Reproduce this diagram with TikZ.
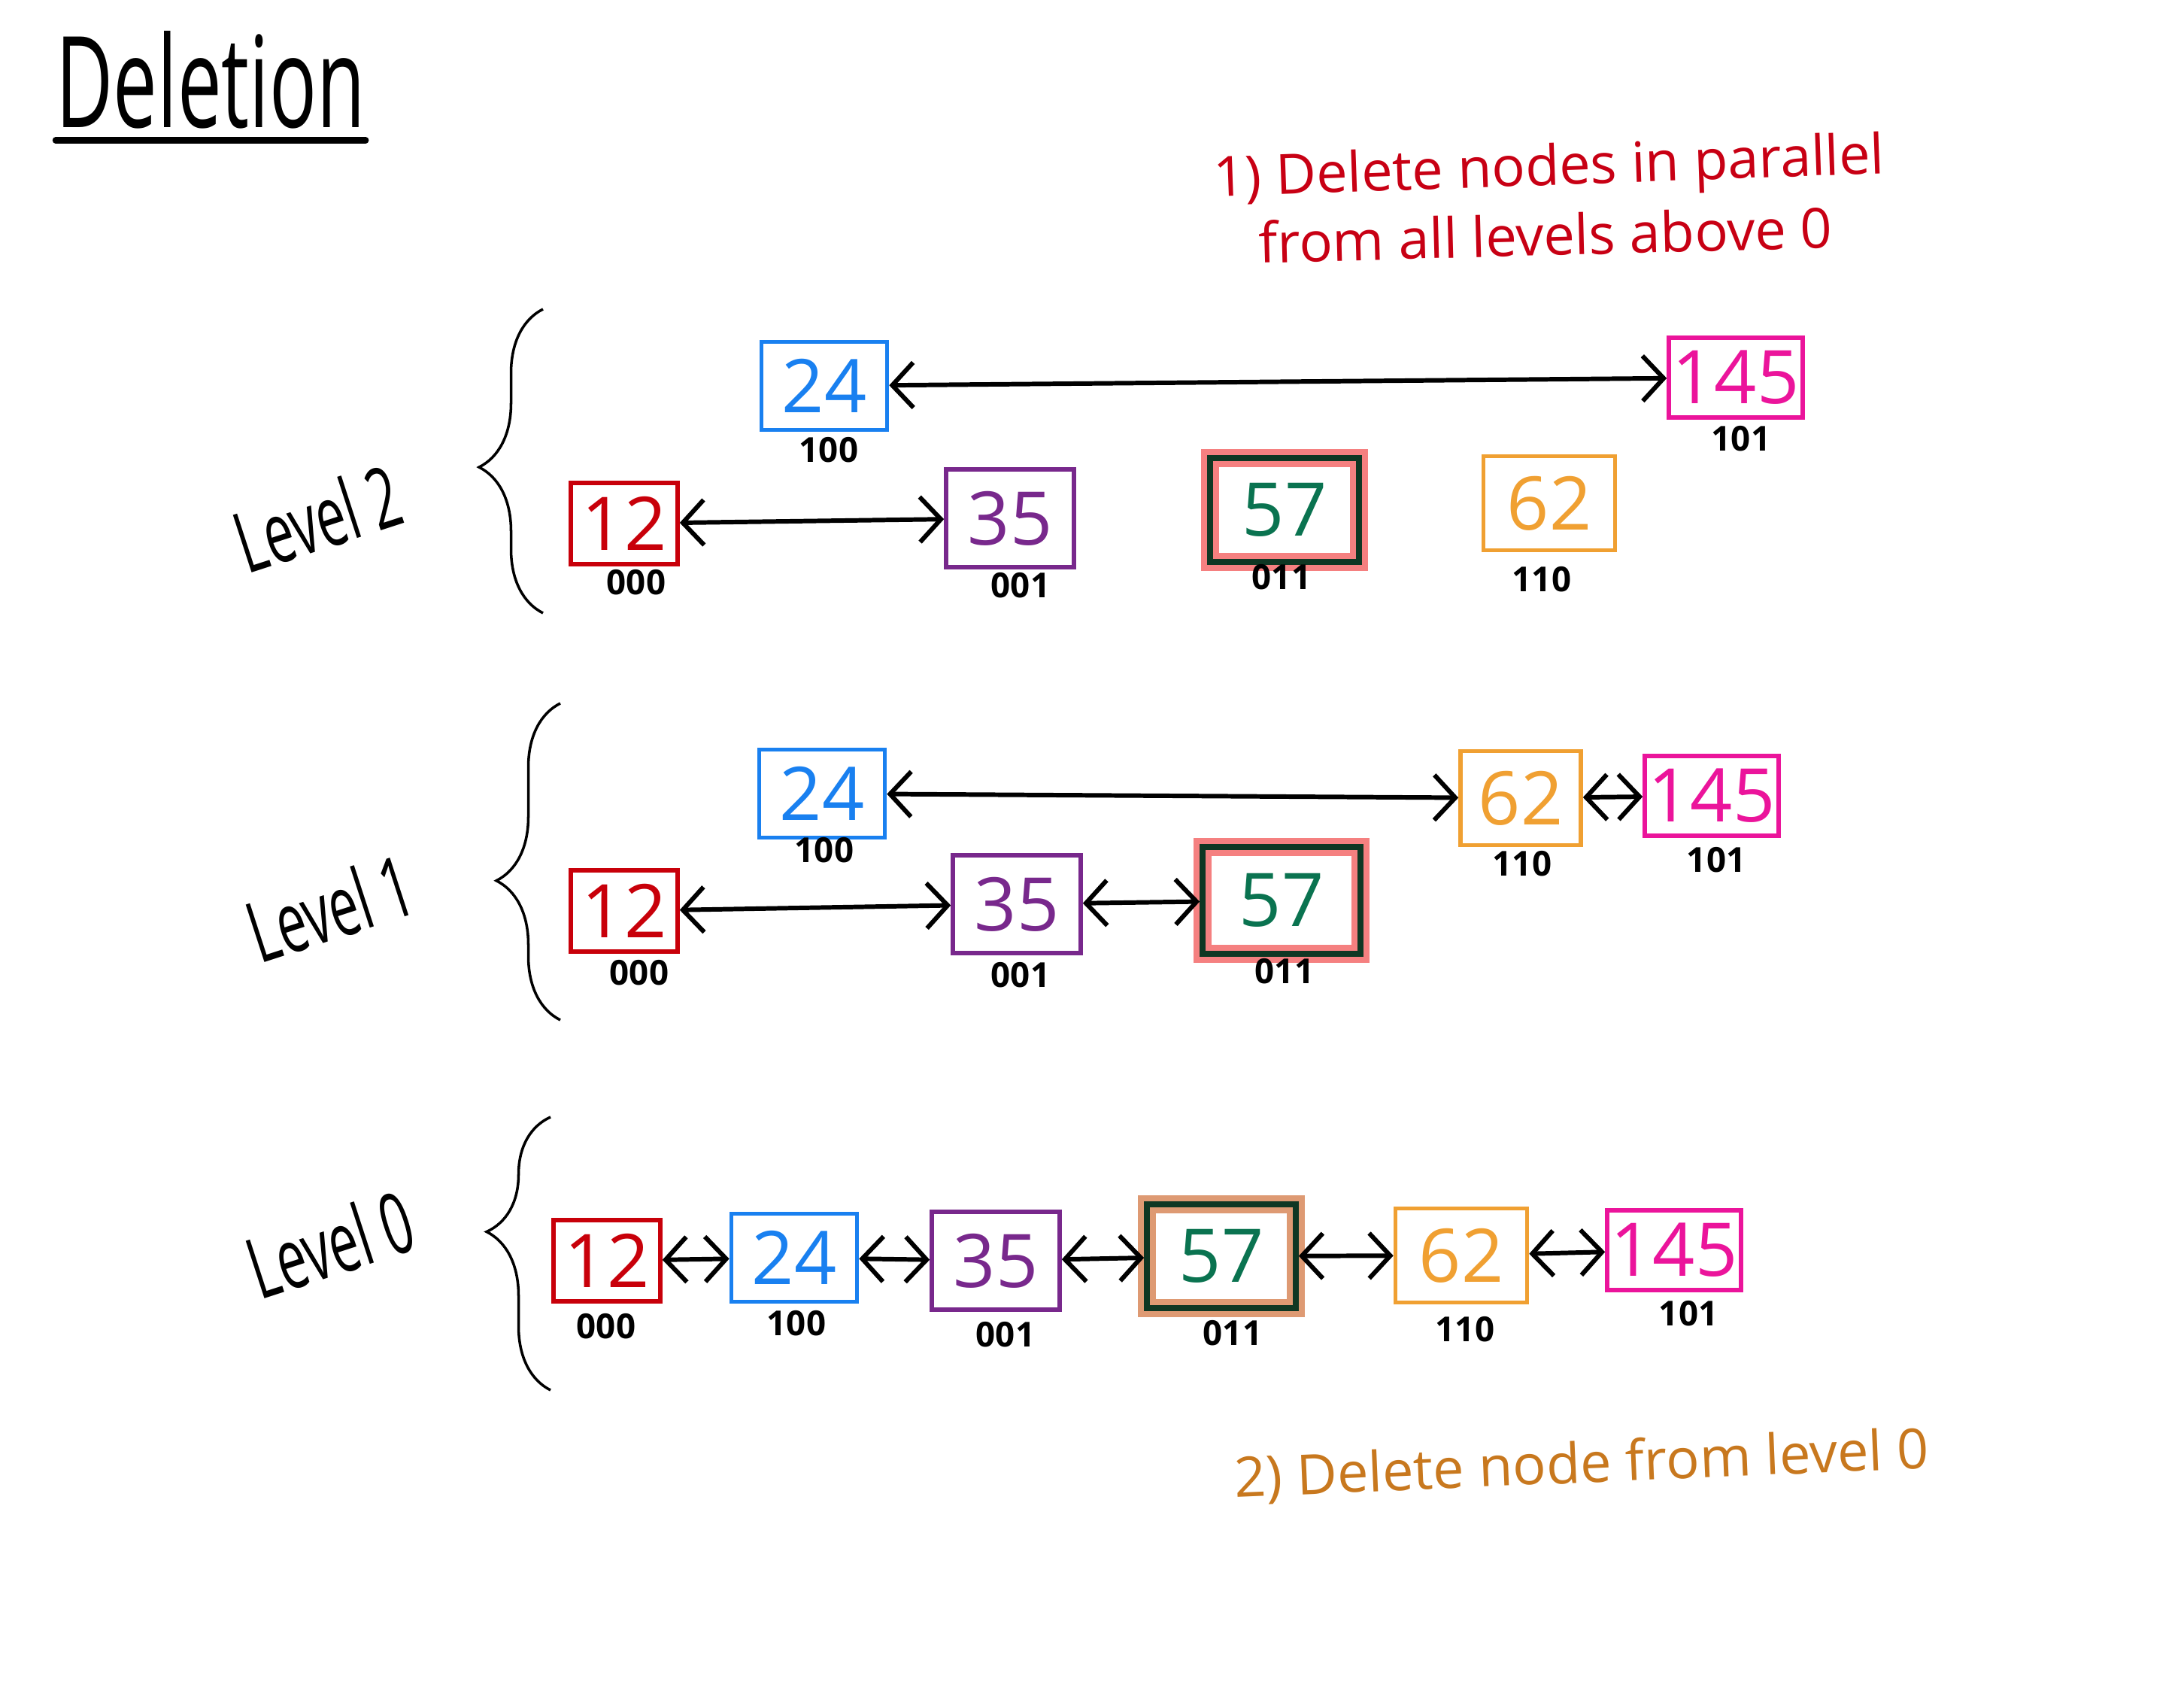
\documentclass[tikz,border=0pt]{standalone}
\usepackage{fontspec}
\setmainfont{Open Sans}
\newfontfamily\handnarrow[FakeStretch=0.62]{Open Sans}
\usepackage{xcolor}
\usepackage{tikz}
\usetikzlibrary{arrows.meta,decorations.pathreplacing}
\definecolor{keyred}{RGB}{200,0,10}
\definecolor{keyblue}{RGB}{25,128,240}
\definecolor{keypurple}{RGB}{120,40,140}
\definecolor{keygreen}{RGB}{10,115,80}
\definecolor{keydark}{RGB}{15,55,35}
\definecolor{keyorange}{RGB}{240,160,50}
\definecolor{keypink}{RGB}{235,20,155}
\definecolor{noteone}{RGB}{200,0,20}
\definecolor{notetwo}{RGB}{200,120,30}
\definecolor{hlred}{RGB}{240,60,60}
\definecolor{hlbrown}{RGB}{205,100,40}

\begin{document}
\begin{tikzpicture}[
    key/.style={draw, line width=1.6pt, inner sep=0pt, font=\fontsize{28}{28}\selectfont},
    k12/.style={key, draw=keyred, text=keyred, minimum width=1.42cm, minimum height=1.08cm},
    k24/.style={key, draw=keyblue, text=keyblue, minimum width=1.67cm, minimum height=1.17cm},
    k35/.style={key, draw=keypurple, text=keypurple, minimum width=1.70cm, minimum height=1.30cm},
    k57/.style={key, draw=keydark, line width=2.2pt, text=keygreen, minimum width=1.98cm, minimum height=1.38cm},
    k62/.style={key, draw=keyorange, text=keyorange, minimum width=1.75cm, minimum height=1.25cm},
    k145/.style={key, draw=keypink, text=keypink, minimum width=1.78cm, minimum height=1.06cm},
    hl/.style={preaction={draw=#1, line width=2.4mm, draw opacity=.65}},
    bits/.style={font=\fontsize{13}{13}\selectfont\bfseries, inner sep=0pt},
    lvl/.style={rotate=18, font=\handnarrow\fontsize{32}{32}\selectfont},
    link/.style={<->, line width=1.7pt, >={Straight Barb[length=2.8mm,width=6mm]}},
    curly/.style={decorate, decoration={brace, amplitude=8.5mm, aspect=#1}, line width=1pt},
    note/.style={anchor=base west, font=\fontsize{21}{21}\selectfont}
  ]
    \path[use as bounding box, fill=white] (0,0) rectangle (29.04,-22.44);

    \node[anchor=base west, inner sep=0pt, font=\handnarrow\fontsize{48}{48}\selectfont] (title) at (0.74,-1.70) {Deletion};
    \draw[line width=2.4pt, line cap=round] ([yshift=-4pt]title.south west) -- ([yshift=-4pt]title.south east);

    \node[note, text=noteone, rotate=2] (stepOne) at (16.02,-2.62) {1) Delete nodes in parallel};
    \node[note, text=noteone, rotate=1.5] (stepOneB) at (16.62,-3.50) {from all levels above 0};
    \node[note, text=notetwo, rotate=2.4] (stepTwo) at (16.30,-19.91) {2) Delete node from level 0};

    % level 2
    \node[lvl] (lvlTwo) at (4.22,-6.89) {Level 2};
    \draw[curly=.48] (7.22,-8.15) -- (7.22,-4.11);
    \node[k12] (k12L2) at (8.30,-6.96) {12};
    \node[k24] (k24L2) at (10.96,-5.13) {24};
    \node[k35] (k35L2) at (13.43,-6.89) {35};
    \node[k57, hl=hlred] (k57L2) at (17.08,-6.78) {57};
    \node[k62] (k62L2) at (20.60,-6.69) {62};
    \node[k145] (k145L2) at (23.08,-5.02) {145};
    \node[bits] (b12L2) at (8.46,-7.74) {000};
    \node[bits] (b24L2) at (11.02,-5.98) {100};
    \node[bits] (b35L2) at (13.57,-7.78) {001};
    \node[bits] (b57L2) at (17.04,-7.67) {011};
    \node[bits] (b62L2) at (20.50,-7.70) {110};
    \node[bits] (b145L2) at (23.15,-5.83) {101};
    \draw[link] (k24L2) -- (k145L2);
    \draw[link] (k12L2) -- (k35L2);

    % level 1
    \node[lvl] (lvlOne) at (4.39,-12.07) {Level 1};
    \draw[curly=.44] (7.45,-13.56) -- (7.45,-9.35);
    \node[k12] (k12L1) at (8.30,-12.11) {12};
    \node[k24] (k24L1) at (10.93,-10.55) {24};
    \node[k35] (k35L1) at (13.52,-12.02) {35};
    \node[k57, hl=hlred, minimum width=2.1cm, minimum height=1.42cm] (k57L1) at (17.04,-11.97) {57};
    \node[k62, minimum width=1.6cm] (k62L1) at (20.22,-10.61) {62};
    \node[k145] (k145L1) at (22.76,-10.58) {145};
    \node[bits] (b12L1) at (8.50,-12.93) {000};
    \node[bits] (b24L1) at (10.96,-11.30) {100};
    \node[bits] (b35L1) at (13.57,-12.96) {001};
    \node[bits] (b57L1) at (17.08,-12.91) {011};
    \node[bits] (b62L1) at (20.24,-11.48) {110};
    \node[bits] (b145L1) at (22.82,-11.43) {101};
    \draw[link] (k24L1) -- (k62L1);
    \draw[link] (k62L1) -- (k145L1);
    \draw[link] (k12L1) -- (k35L1);
    \draw[link] (k35L1) -- (k57L1);

    % level 0
    \node[lvl] (lvlZero) at (4.39,-16.54) {Level 0};
    \draw[curly=.58] (7.32,-18.48) -- (7.32,-14.85);
    \node[k12] (k12L0) at (8.07,-16.76) {12};
    \node[k24] (k24L0) at (10.56,-16.72) {24};
    \node[k35] (k35L0) at (13.24,-16.76) {35};
    \node[k57, hl=hlbrown] (k57L0) at (16.24,-16.70) {57};
    \node[k62] (k62L0) at (19.43,-16.69) {62};
    \node[k145] (k145L0) at (22.26,-16.62) {145};
    \node[bits] (b12L0) at (8.06,-17.63) {000};
    \node[bits] (b24L0) at (10.59,-17.59) {100};
    \node[bits] (b35L0) at (13.37,-17.74) {001};
    \node[bits] (b57L0) at (16.39,-17.72) {011};
    \node[bits] (b62L0) at (19.48,-17.67) {110};
    \node[bits] (b145L0) at (22.45,-17.46) {101};
    \draw[link] (k12L0) -- (k24L0);
    \draw[link] (k24L0) -- (k35L0);
    \draw[link] (k35L0) -- (k57L0);
    \draw[link] (k57L0) -- (k62L0);
    \draw[link] (k62L0) -- (k145L0);
\end{tikzpicture}
\end{document}
